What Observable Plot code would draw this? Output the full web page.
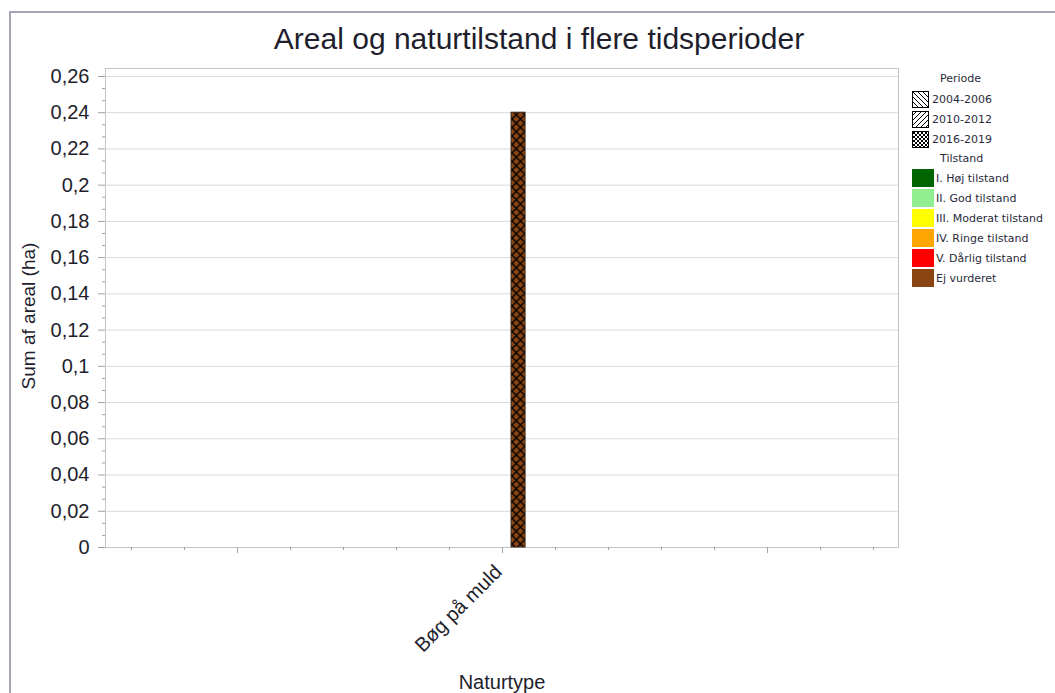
<!DOCTYPE html>
<html><head><meta charset="utf-8">
<script src="https://cdn.jsdelivr.net/npm/d3@7"></script>
<script src="https://cdn.jsdelivr.net/npm/@observablehq/plot@0.6"></script>
<style>
body{margin:0;background:#fff;}
#wrap{position:relative;width:1055px;height:693px;overflow:hidden;font-family:"Liberation Sans",Arial,sans-serif;color:#1e1e2c;}
#border{position:absolute;left:9px;top:11px;width:1200px;height:900px;border-top:2px solid #a4a4b6;border-left:2px solid #a4a4b6;}
#chart{position:absolute;left:0;top:0;}
.abs{position:absolute;white-space:nowrap;}
#title{left:539px;top:39px;font-size:30px;transform:translate(-50%,-50%);}
#ylabel{left:29px;top:316px;font-size:19px;transform:translate(-50%,-50%) rotate(-90deg);}
#xlabel{left:502px;top:682px;font-size:20px;transform:translate(-50%,-50%);}
.leg{font-family:"DejaVu Sans",Tahoma,sans-serif;font-size:11px;color:#2a2a3a;transform:translateY(-50%);}
</style>
</head><body>
<svg width="0" height="0" style="position:absolute"><defs id="defs"></defs></svg>
<div id="wrap">
  <div id="border"></div>
  <div id="chart"></div>
  <div id="title" class="abs">Areal og naturtilstand i flere tidsperioder</div>
  <div id="ylabel" class="abs">Sum af areal (ha)</div>
  <div id="xlabel" class="abs">Naturtype</div>
  <div id="legend"></div>
</div>
<script>
// ---- data ----
const categories = ["Bøg på muld"];
const periods = ["2004-2006", "2010-2012", "2016-2019"];
const tilstande = ["I. Høj tilstand", "II. God tilstand", "III. Moderat tilstand", "IV. Ringe tilstand", "V. Dårlig tilstand", "Ej vurderet"];
const tilstandColors = ["#006400", "#90EE90", "#FFFF00", "#FFA500", "#FF0000", "#8B4513"];
const barCategory = ["Bøg på muld"];
const barPeriod = ["2016-2019"];
const barTilstand = ["Ej vurderet"];
const barValue = [0.24];
const yTicks = [0, 0.02, 0.04, 0.06, 0.08, 0.1, 0.12, 0.14, 0.16, 0.18, 0.2, 0.22, 0.24, 0.26];
const periodHatch = ["back", "fwd", "cross"];

// ---- layout constants ----
const barOffset = 0.034, barWidth = 0.053;
const yMax = 0.2644;
const xDomain = [-1.498, 1.494];

// ---- patterns ----
const defs = d3.select("#defs");
function hatchPath(kind, s) {
  const back = `M0,0L${s},${s}M${-s/2},${s/2}L${s/2},${s*1.5}M${s/2},${-s/2}L${s*1.5},${s/2}`;
  const fwd = `M0,${s}L${s},0M${-s/2},${s/2}L${s/2},${-s/2}M${s/2},${s*1.5}L${s*1.5},${s/2}`;
  if (kind === "back") return back;
  if (kind === "fwd") return fwd;
  return back + fwd;
}
function addPattern(id, kind, bg, s, sw, ox) {
  const p = defs.append("pattern").attr("id", id).attr("patternUnits", "userSpaceOnUse")
    .attr("width", s).attr("height", s).attr("x", ox || 0);
  p.append("rect").attr("width", s).attr("height", s).attr("fill", bg);
  p.append("path").attr("d", hatchPath(kind, s)).attr("stroke", "#000").attr("stroke-width", sw).attr("fill", "none");
}
periods.forEach((per, pi) => {
  tilstandColors.forEach((c, ti) => addPattern(`bar-${pi}-${ti}`, periodHatch[pi], c, 8.5, 1.4, 2));
  addPattern(`leg-${pi}`, periodHatch[pi], "#fff", pi === 2 ? 4 : 5, 1);
});

// ---- table ----
const bars = barValue.map((v, i) => ({
  cat: categories.indexOf(barCategory[i]),
  period: barPeriod[i],
  tilstand: barTilstand[i],
  value: v
}));
const yMinor = d3.range(0, Math.floor(yMax / (0.02 / 3)) + 1).filter(i => i % 3 !== 0).map(i => i * 0.02 / 3);
const xMajor = [-1, 0, 1];
const xMinor = d3.range(-7, 8).filter(i => i % 5 !== 0).map(i => i * 0.2);
const fmt = d => String(+d.toFixed(2)).replace(".", ",");

const chart = Plot.plot({
  width: 1055, height: 693,
  marginLeft: 105, marginRight: 157, marginTop: 68, marginBottom: 146,
  style: {fontFamily: "Liberation Sans, Arial, sans-serif", color: "#1e1e2c", background: "transparent", overflow: "visible"},
  x: {type: "linear", domain: xDomain, axis: null},
  y: {domain: [0, yMax], axis: null},
  color: {type: "identity"},
  marks: [
    Plot.gridY(yTicks, {stroke: "#dadada", strokeOpacity: 1}),
    Plot.frame({stroke: "#c4c4c4"}),
    Plot.rectY(bars, {
      x1: d => d.cat + barOffset,
      x2: d => d.cat + barOffset + barWidth,
      y1: 0, y2: "value",
      fill: d => `url(#bar-${periods.indexOf(d.period)}-${tilstande.indexOf(d.tilstand)})`,
      stroke: "#3b2a1c", strokeWidth: 1
    }),
    Plot.axisY(yTicks, {tickSize: 7, tickPadding: 9, fontSize: 20, tickFormat: fmt, stroke: "#a0a0a0", strokeOpacity: 1, label: null, fill: "#1e1e2c"}),
    Plot.axisY(yMinor, {tickSize: 3, tickFormat: () => "", stroke: "#a0a0a0", strokeOpacity: 1, label: null}),
    Plot.axisX(xMajor, {tickSize: 6, tickFormat: () => "", stroke: "#a0a0a0", strokeOpacity: 1, label: null}),
    Plot.axisX(xMinor, {tickSize: 3, tickFormat: () => "", stroke: "#a0a0a0", strokeOpacity: 1, label: null}),
    Plot.text(categories, {
      x: (d, i) => i, y: 0, text: d => d,
      rotate: -45, textAnchor: "end", dx: -4, dy: 21,
      fontSize: 20, fill: "#1e1e2c"
    })
  ]
});
document.getElementById("chart").appendChild(chart);

// ---- legend ----
const leg = d3.select("#legend");
const addText = (x, y, t) => leg.append("div").attr("class", "abs leg").style("left", x + "px").style("top", y + "px").text(t);
addText(940, 78, "Periode");
periods.forEach((p, i) => {
  const cy = 99 + i * 20;
  leg.append("div").attr("class", "abs").style("left", "912px").style("top", (cy - 8) + "px")
    .html(`<svg width="17" height="17"><rect x="0.5" y="0.5" width="16" height="16" fill="url(#leg-${i})" stroke="#000"/></svg>`);
  addText(932, cy, p);
});
addText(940, 158, "Tilstand");
tilstande.forEach((t, i) => {
  const cy = 178 + i * 20;
  leg.append("div").attr("class", "abs").style("left", "912px").style("top", (cy - 9) + "px")
    .style("width", "22px").style("height", "18px").style("background", tilstandColors[i]);
  addText(936, cy, t);
});
</script>
</body></html>
